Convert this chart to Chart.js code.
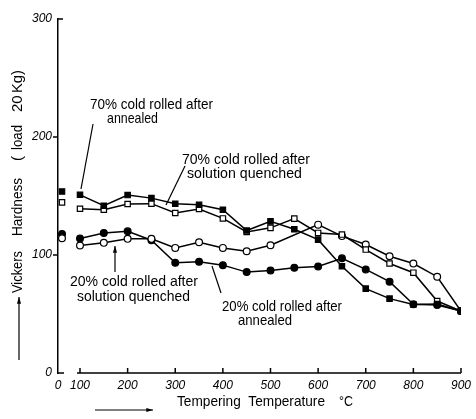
<!DOCTYPE html>
<html>
<head>
<meta charset="utf-8">
<script src="https://cdn.jsdelivr.net/npm/chart.js@4/dist/chart.umd.min.js"></script>
<style>
  html, body { margin: 0; padding: 0; background: #fff; }
  #wrap { width: 476px; height: 419px; position: relative; }
</style>
</head>
<body>
<div id="wrap"><canvas id="c" width="476" height="419"></canvas></div>
<script>
// ---------------- data ----------------
const temps = [0, 100, 150, 200, 250, 300, 350, 400, 450, 500, 550, 600, 650, 700, 750, 800, 850, 900];
const cr70Annealed  = [153.8, 151, 141.8, 150.8, 148.2, 143.5, 142.6, 138.4, 120.7, 128.5, 121.8, 113, 90.5, 71.5, 63, 58, 58.5, 52.5];
const cr70Quenched  = [144.6, 139.2, 138.4, 143.2, 143.5, 135.6, 139, 131, 119.6, 123, 130.8, 118.7, 117.3, 104.6, 92.8, 85, 61, 52.5];
const cr20Quenched  = [114.2, 108, 110.3, 113.7, 113.7, 106, 110.8, 106, 103.2, 108.3, null, 125.7, 116, 108.9, 99, 92.8, 81.6, 52.5];
const cr20Annealed  = [117.9, 113.9, 118.7, 120.1, 112.5, 93.4, 94.2, 91.4, 85.5, 86.9, 89.2, 90.3, 97.2, 87.8, 77.4, 58.2, 57.6, 52.5];
const xTicks = [0, 100, 200, 300, 400, 500, 600, 700, 800, 900];
const yTicks = [0, 100, 200, 300];
const BREAK = 100;

// ---------------- broken x scale (0 | 100..900) ----------------
const LinearScale = Chart.LinearScale;
class BrokenLinearScale extends LinearScale {
  getPixelForValue(value) {
    const g = this.left + 22;
    if (value < BREAK) return this.left + 4 + (value / BREAK) * (g - this.left - 4);
    return g + (value - BREAK) / (this.max - BREAK) * (this.right - g);
  }
  getValueForPixel(pixel) {
    const g = this.left + 22;
    if (pixel < g) return (pixel - this.left - 4) / (g - this.left - 4) * BREAK;
    return BREAK + (pixel - g) / (this.right - g) * (this.max - BREAK);
  }
  getPixelForTick(index) {
    const t = this.ticks[index];
    if (!t) return null;
    if (t.value === 0) return this.left;
    return this.getPixelForValue(t.value);
  }
}
BrokenLinearScale.id = 'brokenLinear';
BrokenLinearScale.defaults = LinearScale.defaults;
Chart.register(BrokenLinearScale);

function toXY(vals) {
  const out = [];
  temps.forEach((t, i) => { if (vals[i] !== null) out.push({ x: t, y: vals[i] }); });
  return out;
}

function series(vals, style, filled) {
  return {
    data: toXY(vals),
    borderColor: '#000',
    borderWidth: 1.5,
    pointStyle: style,
    pointRadius: style === 'rect' ? 3.8 : 3.4,
    pointBorderWidth: 1.2,
    pointBorderColor: '#000',
    pointBackgroundColor: filled ? '#000' : '#fff',
    tension: 0,
    fill: false,
    segment: { borderColor: ctx => (ctx.p0.parsed.x < BREAK ? 'rgba(0,0,0,0)' : '#000') }
  };
}

const FONT = '"Liberation Sans", Arial, sans-serif';

function txt(ctx, s, x, y, size, maxW) {
  ctx.font = size + 'px ' + FONT;
  ctx.textAlign = 'left';
  ctx.textBaseline = 'middle';
  ctx.fillText(s, x, y, maxW);
}
function line(ctx, x1, y1, x2, y2, head) {
  ctx.beginPath(); ctx.moveTo(x1, y1); ctx.lineTo(x2, y2); ctx.stroke();
  if (head) {
    const a = Math.atan2(y2 - y1, x2 - x1), L = 7;
    ctx.beginPath();
    ctx.moveTo(x2, y2);
    ctx.lineTo(x2 - L * Math.cos(a - 0.3), y2 - L * Math.sin(a - 0.3));
    ctx.lineTo(x2 - L * Math.cos(a + 0.3), y2 - L * Math.sin(a + 0.3));
    ctx.closePath(); ctx.fill();
  }
}

const decor = {
  id: 'decor',
  beforeDatasetsDraw(chart) {
    const ctx = chart.ctx, xs = chart.scales.x, ys = chart.scales.y;
    ctx.save();
    ctx.strokeStyle = '#000'; ctx.fillStyle = '#000'; ctx.lineWidth = 1.5;
    const y0 = ys.getPixelForValue(0);
    // broken x-axis line
    line(ctx, xs.getPixelForValue(BREAK) - 3, y0, xs.getPixelForValue(900), y0);
    // inward (upward) x ticks
    xTicks.forEach(v => { if (v >= BREAK) line(ctx, xs.getPixelForValue(v), y0, xs.getPixelForValue(v), y0 - 5); });
    // y-axis foot and ticks
    line(ctx, xs.left, y0, xs.left + 6, y0);
    yTicks.forEach(v => {
      const p = ys.getPixelForValue(v);
      if (v === 300) line(ctx, xs.left, p, xs.left + 5, p);
      else if (v > 0) line(ctx, xs.left - 5, p, xs.left, p);
    });
    ctx.restore();
  },
  afterDraw(chart) {
    const ctx = chart.ctx;
    ctx.save();
    ctx.strokeStyle = '#000'; ctx.fillStyle = '#000'; ctx.lineWidth = 1.2;
    // callouts
    txt(ctx, '70% cold rolled after', 90, 105, 15, 123);
    txt(ctx, 'annealed', 107, 119, 15, 51);
    line(ctx, 93, 124, 81, 189);
    txt(ctx, '70% cold rolled after', 182, 160, 15, 128);
    txt(ctx, 'solution quenched', 187, 174, 15, 115);
    line(ctx, 185, 166, 166, 205);
    txt(ctx, '20% cold rolled after', 70, 282, 15, 128);
    txt(ctx, 'solution quenched', 77, 297, 15, 113);
    line(ctx, 115, 272, 115, 246, true);
    txt(ctx, '20% cold rolled after', 222, 307, 15, 120);
    txt(ctx, 'annealed', 238, 321, 15, 54);
    line(ctx, 221, 293, 212, 266);
    // x title
    txt(ctx, 'Tempering  Temperature', 177, 402, 15, 148);
    txt(ctx, '°C', 339, 402, 15, 14);
    line(ctx, 95, 410, 153, 410, true);
    // y title
    ctx.save();
    ctx.translate(18, 0);
    ctx.rotate(-Math.PI / 2);
    txt(ctx, 'Vickers', -293, 0, 15, 42);
    txt(ctx, 'Hardness', -236, 0, 15, 58);
    txt(ctx, '(', -161, 0, 15, 6);
    txt(ctx, 'load', -150, 0, 15, 25);
    txt(ctx, '20', -112, 0, 15, 17);
    txt(ctx, 'Kg)', -93, 0, 15, 23);
    ctx.restore();
    line(ctx, 19, 360, 19, 297, true);
    ctx.restore();
  }
};

new Chart(document.getElementById('c'), {
  type: 'line',
  data: {
    datasets: [
      series(cr70Annealed, 'rect', true),
      series(cr70Quenched, 'rect', false),
      series(cr20Quenched, 'circle', false),
      series(cr20Annealed, 'circle', true)
    ]
  },
  options: {
    responsive: false,
    animation: false,
    events: [],
    layout: { padding: { left: 0, top: 19, right: 11, bottom: 0 } },
    plugins: { legend: { display: false }, tooltip: { enabled: false } },
    scales: {
      x: {
        type: 'brokenLinear',
        min: 0, max: 900,
        afterBuildTicks: s => { s.ticks = xTicks.map(v => ({ value: v })); },
        afterFit: s => { s.height = 46; },
        grid: { display: false, drawTicks: false },
        border: { display: false },
        ticks: { autoSkip: false, maxRotation: 0, padding: 5, color: '#000',
                 font: { family: FONT, size: 12, style: 'italic' } }
      },
      y: {
        min: 0, max: 300,
        afterBuildTicks: s => { s.ticks = yTicks.map(v => ({ value: v })); },
        afterFit: s => { s.width = 58; },
        grid: { display: false, drawTicks: false },
        border: { display: true, color: '#000', width: 1.5 },
        ticks: { padding: 6, color: '#000', font: { family: FONT, size: 12, style: 'italic' } }
      }
    }
  },
  plugins: [decor]
});
</script>
</body>
</html>
